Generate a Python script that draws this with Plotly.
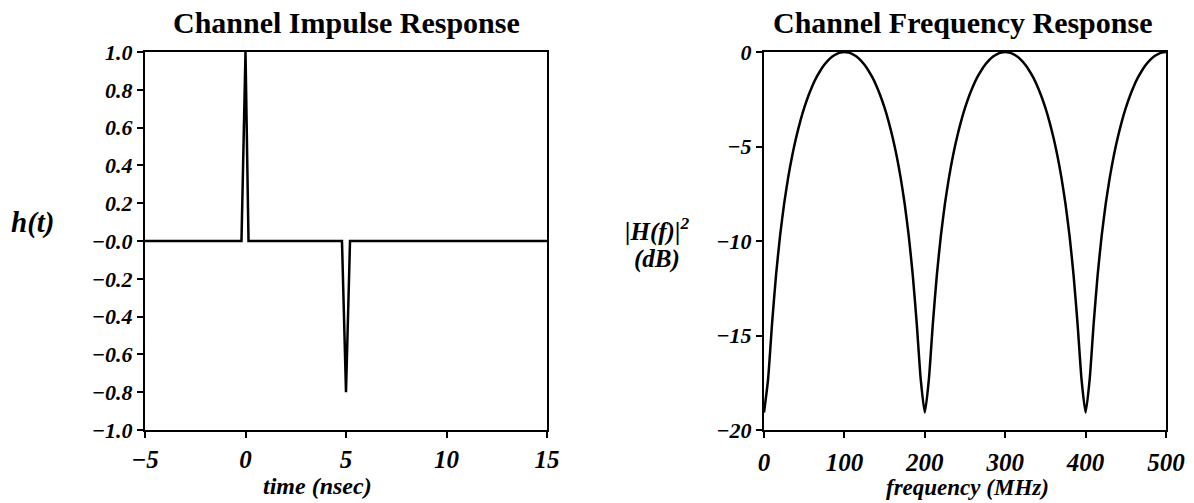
import plotly.graph_objects as go

# ---- data ----
time_ns = [-5, -0.2, 0, 0.15, 4.8, 5, 5.2, 15]
h_t = [0, 0, 1.0, 0, 0, -0.8, 0, 0]

freq_mhz = list(range(0, 505, 5))
h_f_db = [
    -19.08, -17.35, -14.38, -11.79, -9.72, -8.04, -6.66, -5.50, -4.52, -3.68,
    -2.96, -2.34, -1.81, -1.36, -0.99, -0.68, -0.43, -0.24, -0.11, -0.03, 0.00,
    -0.03, -0.11, -0.24, -0.43, -0.68, -0.99, -1.36, -1.81, -2.34, -2.96,
    -3.68, -4.52, -5.50, -6.66, -8.04, -9.72, -11.79, -14.38, -17.35, -19.08,
    -17.35, -14.38, -11.79, -9.72, -8.04, -6.66, -5.50, -4.52, -3.68, -2.96,
    -2.34, -1.81, -1.36, -0.99, -0.68, -0.43, -0.24, -0.11, -0.03, 0.00,
    -0.03, -0.11, -0.24, -0.43, -0.68, -0.99, -1.36, -1.81, -2.34, -2.96,
    -3.68, -4.52, -5.50, -6.66, -8.04, -9.72, -11.79, -14.38, -17.35, -19.08,
    -17.35, -14.38, -11.79, -9.72, -8.04, -6.66, -5.50, -4.52, -3.68, -2.96,
    -2.34, -1.81, -1.36, -0.99, -0.68, -0.43, -0.24, -0.11, -0.03, 0.00,
]

left_xticks = [-5, 0, 5, 10, 15]
left_xlabels = ["\u22125", "0", "5", "10", "15"]
left_yticks = [-1.0, -0.8, -0.6, -0.4, -0.2, 0.0, 0.2, 0.4, 0.6, 0.8, 1.0]
left_ylabels = ["\u22121.0", "\u22120.8", "\u22120.6", "\u22120.4", "\u22120.2", "\u22120.0",
                "0.2", "0.4", "0.6", "0.8", "1.0"]
right_xticks = [0, 100, 200, 300, 400, 500]
right_xlabels = ["0", "100", "200", "300", "400", "500"]
right_yticks = [-20, -15, -10, -5, 0]
right_ylabels = ["\u221220", "\u221215", "\u221210", "\u22125", "0"]

W, H = 1194, 503
TOP, BOT = 52, 430
FONT = "Liberation Serif"
TICKFONT_X = dict(family=FONT, size=25, color="black", weight="bold", style="italic")
TICKFONT_Y = dict(family=FONT, size=22, color="black", weight="bold", style="italic")

fig = go.Figure()
fig.add_trace(go.Scatter(x=time_ns, y=h_t, mode="lines",
                         line=dict(color="black", width=2.5), xaxis="x", yaxis="y",
                         showlegend=False))
fig.add_trace(go.Scatter(x=freq_mhz, y=h_f_db, mode="lines",
                         line=dict(color="black", width=2.5, shape="spline", smoothing=0.6),
                         xaxis="x2", yaxis="y2", showlegend=False))

common = dict(showline=True, linecolor="black", linewidth=2, mirror=True,
              ticks="outside", ticklen=6, tickwidth=2, tickcolor="black",
              showgrid=False, zeroline=False, automargin=False)

fig.update_layout(
    width=W, height=H,
    margin=dict(l=0, r=0, t=TOP, b=H - BOT),
    paper_bgcolor="white", plot_bgcolor="white",
    xaxis=dict(domain=[145 / W, 547 / W], range=[-5, 15], tickvals=left_xticks,
               ticktext=left_xlabels, tickfont=TICKFONT_X, anchor="y", **common),
    yaxis=dict(domain=[0, 1], range=[-1, 1], tickvals=left_yticks,
               ticktext=left_ylabels, tickfont=TICKFONT_Y, anchor="x", **common),
    xaxis2=dict(domain=[764 / W, 1166 / W], range=[0, 500], tickvals=right_xticks,
                ticktext=right_xlabels, tickfont=TICKFONT_X, anchor="y2",
                ticklabelstandoff=3, **common),
    yaxis2=dict(domain=[0, 1], range=[-20, 0], tickvals=right_yticks,
                ticktext=right_ylabels, tickfont=TICKFONT_Y, anchor="x2", **common),
)

def ann(text, x, y, size, italic=True, bold=True, yanchor="middle"):
    fig.add_annotation(text=text, x=x / W, y=(BOT - y) / (BOT - TOP),
                       xref="paper", yref="paper",
                       showarrow=False, xanchor="center", yanchor=yanchor,
                       font=dict(family=FONT, size=size, color="black",
                                 weight="bold" if bold else "normal",
                                 style="italic" if italic else "normal"))

ann("Channel Impulse Response", 346, 23, 30, italic=False)
ann("Channel Frequency Response", 962, 23, 30, italic=False)
ann("time (nsec)", 317, 486, 24)
ann("frequency (MHz)", 967, 502, 23, yanchor="bottom")
ann("h(t)", 33, 222, 29)
ann("|H(f)|<sup>2</sup>", 657, 229, 25)
ann("(dB)", 657, 259, 25)

fig.write_html("out.html")
